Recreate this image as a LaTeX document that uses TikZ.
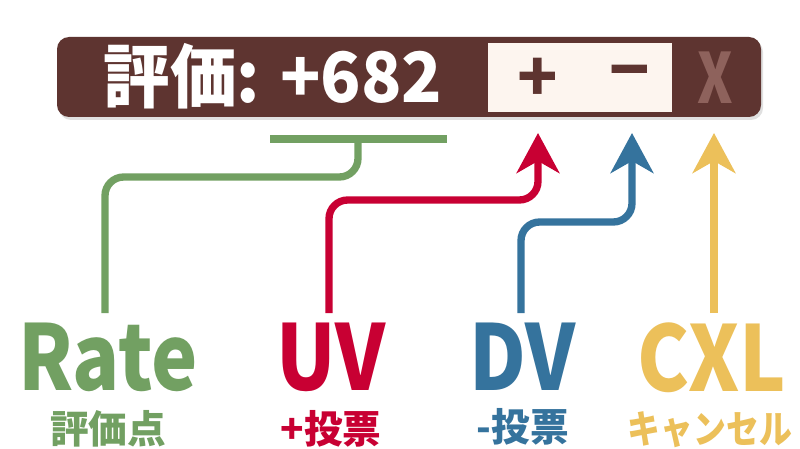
\documentclass[tikz,border=0pt]{standalone}
\usepackage{fontspec}
\newfontfamily\jp{Noto Sans CJK JP}
\usepackage{xcolor}
\usepackage{tikz}
\usetikzlibrary{arrows.meta, positioning, calc}

\definecolor{barbrown}{HTML}{5E3430}
\definecolor{btnfill}{HTML}{FDF5EF}
\definecolor{xmuted}{HTML}{8E625C}
\definecolor{rategreen}{HTML}{72A062}
\definecolor{uvred}{HTML}{C80033}
\definecolor{dvblue}{HTML}{35739D}
\definecolor{cxlyellow}{HTML}{ECC05A}

\begin{document}
\begin{tikzpicture}[
  x=0.75pt, y=-0.75pt,
  bigtag/.style  = {font=\jp\bfseries\fontsize{68}{68}\selectfont,
                    inner sep=0pt, xscale=0.86, anchor=north},
  subtag/.style  = {font=\jp\bfseries\fontsize{29}{29}\selectfont,
                    inner sep=0pt},
  scoretxt/.style= {font=\jp\bfseries\fontsize{52}{52}\selectfont,
                    text=white, inner sep=0pt, xscale=0.96},
  btntxt/.style  = {font=\jp\bfseries\fontsize{50}{50}\selectfont,
                    text=barbrown, inner sep=0pt},
  link/.style    = {line width=5.5pt, rounded corners=14pt},
  tip/.style     = {-{Stealth[length=30pt, width=32pt, inset=9pt]}},
]
\useasboundingbox (0,0) rectangle (800,449);
\fill[white] (0,0) rectangle (800,449);

%% ── Score bar ───────────────────────────────────────────────────────────────
\fill[black!12, rounded corners=9pt] (59,40) rectangle (763,120);
\fill[barbrown, rounded corners=9pt] (57,37) rectangle (761,117);
\fill[btnfill] (488,43) rectangle (672,112);

\node[scoretxt] (score) at (273,76) {評価: +682};
\node[btntxt]   (plus)  at (538,80) {+};
\node[btntxt]   (minus) at (630,80) {\char"2212};
\node[font=\jp\bfseries\fontsize{52}{52}\selectfont, text=xmuted,
      inner sep=0pt, xscale=0.78] (cancel) at (715,78) {X};

%% ── Labels ──────────────────────────────────────────────────────────────────
\node[bigtag, text=rategreen] (rate) at (108,323) {Rate};
\node[bigtag, text=uvred]     (uv)   at (331,323) {UV};
\node[bigtag, text=dvblue]    (dv)   at (523,323) {DV};
\node[bigtag, text=cxlyellow] (cxl)  at (712,323) {CXL};

\node[subtag, text=rategreen, below=13pt of rate] (ratesub) {評価点};
\node[subtag, text=uvred,     below=13pt of uv]   (uvsub)   {+投票};
\node[subtag, text=dvblue,    below=13pt of dv]   (dvsub)   {-投票};
\node[subtag, text=cxlyellow, below=13pt of cxl, xscale=0.85,
      xshift=-2pt] (cxlsub) {キャンセル};

%% ── Connectors ──────────────────────────────────────────────────────────────
\coordinate (tbarL) at (270,139);
\coordinate (tbarR) at (447,139);
\coordinate (tstem) at (358,139);
\coordinate (uvtip) at (538,133);
\coordinate (dvtip) at (632,133);
\coordinate (cxltip) at (714,133);

\draw[rategreen, line width=5.5pt] (tbarL) -- (tbarR);
\draw[link, rategreen] ($(rate.north)+(-3,-10)$) |- (358,177) -- (tstem);
\draw[link, tip, uvred] ($(uv.north)+(-2,-10)$) |- (538,200) -- (uvtip);
\draw[link, tip, dvblue] ($(dv.north)+(-2,-10)$) |- (632,222) -- (dvtip);
\draw[link, tip, cxlyellow] ($(cxl.north)+(2,-10)$) -- (cxltip);

\end{tikzpicture}
\end{document}
